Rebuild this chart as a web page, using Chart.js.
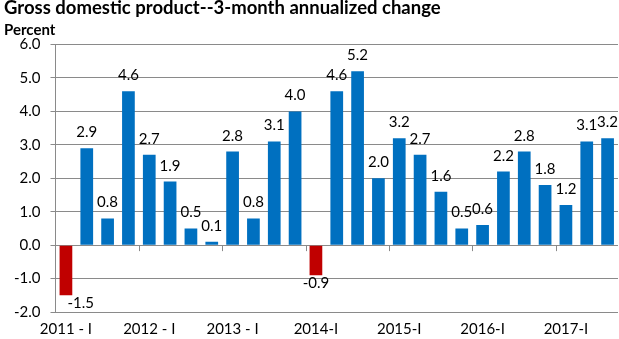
<!DOCTYPE html>
<html>
<head>
<meta charset="utf-8">
<script src="https://cdn.jsdelivr.net/npm/chart.js@4"></script>
<style>
  body { margin: 0; background: #fff; }
  #wrap { width: 619px; height: 339px; }
</style>
</head>
<body>
<div id="wrap"><canvas id="gdpChart" width="619" height="339"></canvas></div>
<script>
const quarters = [
  "2011 - I", "2011 - II", "2011 - III", "2011 - IV",
  "2012 - I", "2012 - II", "2012 - III", "2012 - IV",
  "2013 - I", "2013 - II", "2013 - III", "2013 - IV",
  "2014-I", "2014-II", "2014-III", "2014-IV",
  "2015-I", "2015-II", "2015-III", "2015-IV",
  "2016-I", "2016-II", "2016-III", "2016-IV",
  "2017-I", "2017-II", "2017-III"
];
const gdpChange = [
  -1.5, 2.9, 0.8, 4.6,
  2.7, 1.9, 0.5, 0.1,
  2.8, 0.8, 3.1, 4.0,
  -0.9, 4.6, 5.2, 2.0,
  3.2, 2.7, 1.6, 0.5,
  0.6, 2.2, 2.8, 1.8,
  1.2, 3.1, 3.2
];
const yTicks = [-2, -1, 0, 1, 2, 3, 4, 5, 6];

const FONT = "Lato, 'Open Sans', sans-serif";
const GRID = "#8a8a8a";

// value labels above / below each bar
const barLabels = {
  id: "barLabels",
  afterDatasetsDraw(chart) {
    const ctx = chart.ctx;
    const area = chart.chartArea;
    const meta = chart.getDatasetMeta(0);
    ctx.save();
    ctx.font = "15px " + FONT;
    ctx.fillStyle = "#000";
    ctx.textAlign = "center";
    ctx.textBaseline = "alphabetic";
    meta.data.forEach((bar, i) => {
      const v = gdpChange[i];
      const txt = v.toFixed(1);
      const w = ctx.measureText(txt).width;
      let x = bar.x;
      if (x - w / 2 < area.left + 10) x = area.left + 12 + w / 2;
      if (v >= 0) {
        ctx.fillText(txt, x, bar.y - 11);
      } else {
        ctx.fillText(txt, x, bar.y + 13);
      }
    });
    ctx.restore();
  }
};

// small tick marks on the zero line between years
const yearTicks = {
  id: "yearTicks",
  afterDatasetsDraw(chart) {
    const ctx = chart.ctx;
    const xs = chart.scales.x;
    const y0 = chart.scales.y.getPixelForValue(0);
    const half = (xs.getPixelForValue(1) - xs.getPixelForValue(0)) / 2;
    ctx.save();
    ctx.strokeStyle = GRID;
    ctx.lineWidth = 1;
    ctx.beginPath();
    for (let i = 4; i < quarters.length; i += 4) {
      const x = Math.round(xs.getPixelForValue(i) - half) + 0.5;
      ctx.moveTo(x, y0);
      ctx.lineTo(x, y0 + 6);
    }
    ctx.stroke();
    ctx.restore();
  }
};

new Chart(document.getElementById("gdpChart"), {
  type: "bar",
  data: {
    labels: quarters,
    datasets: [{
      data: gdpChange,
      backgroundColor: gdpChange.map(v => v < 0 ? "#c00000" : "#0070c0"),
      borderWidth: 0,
      categoryPercentage: 1,
      barPercentage: 0.61
    }]
  },
  options: {
    responsive: false,
    animation: false,
    layout: { padding: { left: 4, right: 1, top: -1, bottom: -7 } },
    plugins: {
      legend: { display: false },
      tooltip: { enabled: false },
      title: {
        display: true,
        text: "Gross domestic product--3-month annualized change",
        align: "start",
        color: "#000",
        font: { family: FONT, size: 18.5, weight: "bold", lineHeight: 1 },
        padding: { top: 0, bottom: 4 }
      },
      subtitle: {
        display: true,
        text: "Percent",
        align: "start",
        color: "#000",
        font: { family: FONT, size: 15, weight: "bold", lineHeight: 1.2 },
        padding: { top: 0, bottom: 5 }
      }
    },
    scales: {
      x: {
        grid: { display: false, drawTicks: false },
        border: { display: false },
        ticks: {
          autoSkip: false,
          maxRotation: 0,
          padding: 8,
          color: "#000",
          font: { family: FONT, size: 15 },
          callback: (v, i) => i % 4 === 0 ? quarters[i] : ""
        }
      },
      y: {
        min: -2,
        max: 6,
        afterBuildTicks: s => { s.ticks = yTicks.map(v => ({ value: v })); },
        grid: { color: GRID, tickLength: 5 },
        border: { display: true, color: GRID },
        ticks: {
          padding: 10,
          color: "#000",
          font: { family: FONT, size: 15 },
          callback: v => v.toFixed(1)
        }
      }
    }
  },
  plugins: [barLabels, yearTicks]
});
</script>
</body>
</html>
